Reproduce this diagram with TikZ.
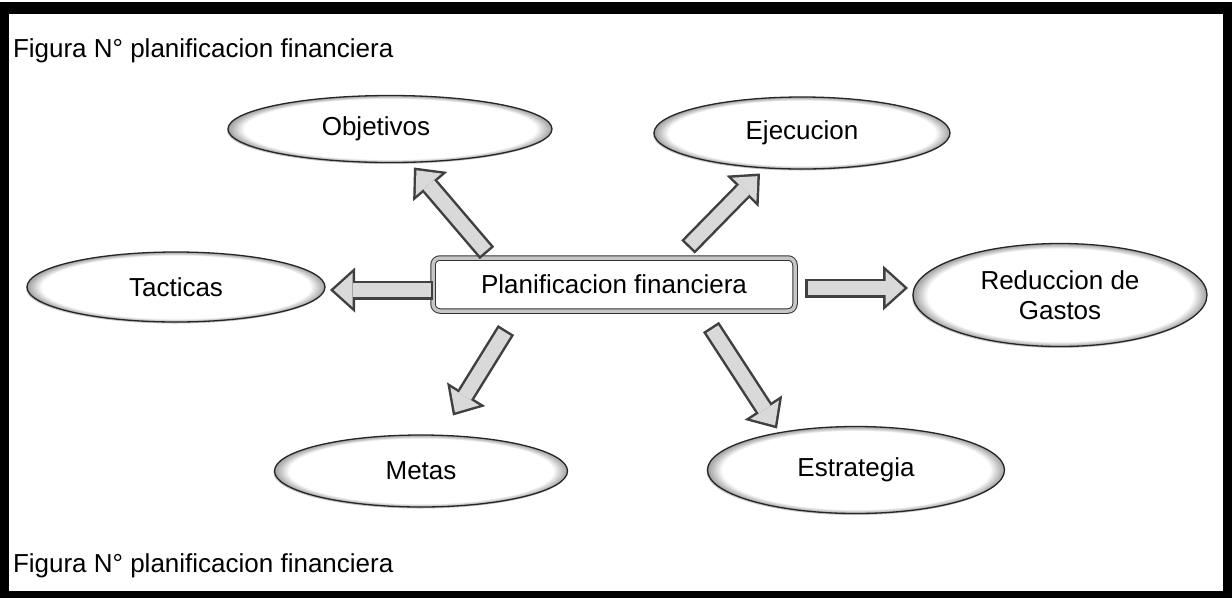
\documentclass[tikz,border=0pt]{standalone}
\usepackage{fontspec}
\setmainfont{Liberation Sans}
\usepackage{tikz}
\usetikzlibrary{
        shapes,
        shadows,
        positioning,
        arrows.meta
    }
\pgfdeclareradialshading{ellring}{\pgfpointorigin}{color(0bp)=(white); color(22.5bp)=(white); color(24.3bp)=(gray!55); color(25bp)=(gray!75); color(50bp)=(gray!75)}

\begin{document}
\begin{tikzpicture}
[x=1pt, y=-1pt,
baseshape/.style={font=\fontsize{26}{30}\selectfont, text centered, outer sep=0pt, inner sep=0pt},
idea/.style={baseshape, ellipse, draw=black!85, line width=1.3pt, shade, shading=ellring, drop shadow={shadow xshift=-1pt, shadow yshift=-1.5pt, opacity=0.45}},
mainbox/.style={baseshape, rectangle, rounded corners=7pt, draw=black!80, line width=1pt, double=gray!45, double distance=3.5pt, minimum width=362pt, minimum height=53pt},
arrowout/.style={draw=black!75, line width=19pt, -{Triangle[length=25pt, width=45pt, line width=0pt]}},
arrowin/.style={draw=gray!30, line width=14pt, shorten <=2.5pt, shorten >=3.7pt, -{Triangle[length=18.8pt, width=34pt, line width=0pt]}},
]
\useasboundingbox (0,0) rectangle (1232,598);
\fill[black] (0,2) rectangle (1232,598);
\fill[white] (9,14) rectangle (1223,591);

\node (title) [baseshape, anchor=base west] at (13,57) {Figura N° planificacion financiera};
\node (caption) [baseshape, anchor=base west] at (13,572) {Figura N° planificacion financiera};

\node (plan) [mainbox] at (614,284.5) {Planificacion financiera};
\node (obj) [idea, minimum width=324pt, minimum height=67pt] at (390,129) {\hspace{-28pt}Objetivos};
\node (eje) [idea, minimum width=296pt, minimum height=72pt] at (802,133) {Ejecucion};
\node (tac) [idea, minimum width=298pt, minimum height=70pt] at (176,287) {Tacticas};
\node (red) [idea, minimum width=294pt, minimum height=103pt, align=center] at (1060,295) {Reduccion de\\Gastos};
\node (met) [idea, minimum width=293pt, minimum height=72pt] at (421,471) {Metas};
\node (est) [idea, minimum width=297pt, minimum height=87pt] at (856,470) {Estrategia\hspace{-14pt}};

\draw[arrowout] ([shift={(54,-5)}]plan.north west) -- ([shift={(24,5)}]obj.south);
\draw[arrowin] ([shift={(54,-5)}]plan.north west) -- ([shift={(24,5)}]obj.south);
\draw[arrowout] ([shift={(-107,-11)}]plan.north east) -- ([shift={(-42,4.5)}]eje.south);
\draw[arrowin] ([shift={(-107,-11)}]plan.north east) -- ([shift={(-42,4.5)}]eje.south);
\draw[arrowout] ([shift={(0,5.5)}]plan.west) -- ([shift={(5,3)}]tac.east);
\draw[arrowin] ([shift={(0,5.5)}]plan.west) -- ([shift={(5,3)}]tac.east);
\draw[arrowout] ([shift={(10,3.5)}]plan.east) -- ([shift={(-5,-7)}]red.west);
\draw[arrowin] ([shift={(10,3.5)}]plan.east) -- ([shift={(-5,-7)}]red.west);
\draw[arrowout] ([shift={(73,19)}]plan.south west) -- ([shift={(32,-19.5)}]met.north);
\draw[arrowin] ([shift={(73,19)}]plan.south west) -- ([shift={(32,-19.5)}]met.north);
\draw[arrowout] ([shift={(-84,16)}]plan.south east) -- ([shift={(-79,2)}]est.north);
\draw[arrowin] ([shift={(-84,16)}]plan.south east) -- ([shift={(-79,2)}]est.north);

\end{tikzpicture}
\end{document}
